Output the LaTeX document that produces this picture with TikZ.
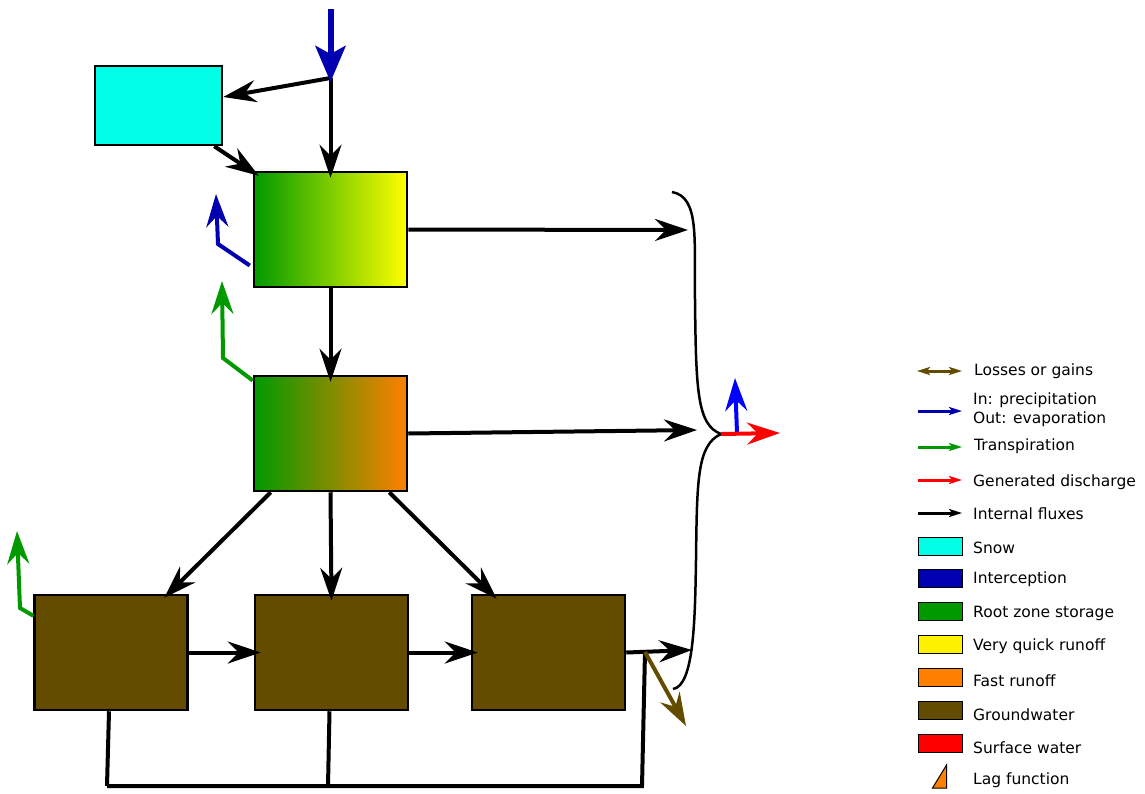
\documentclass[tikz,border=0pt]{standalone}
\usepackage{fontspec}
\setmainfont{DejaVu Sans}
\usetikzlibrary{arrows.meta}
\definecolor{snowcol}{RGB}{0,255,230}
\definecolor{intercol}{RGB}{0,0,176}
\definecolor{rootcol}{RGB}{0,153,0}
\definecolor{fastcol}{RGB}{255,128,0}
\definecolor{gwcol}{RGB}{99,75,0}
\tikzset{x=1pt,y=-1pt,
store/.style={ % Boxes of the model
draw,line width=2.5pt,inner sep=0pt,minimum width=153pt,minimum height=115pt},
keybox/.style={ % Boxes of the key
draw,line width=1pt,inner sep=0pt,minimum width=44pt,minimum height=18pt},
keytext/.style={anchor=base west,inner sep=0pt,font=\fontsize{15.5}{18}\selectfont},
flux/.style={line width=4pt,-{Stealth[length=33pt,width=22pt,inset=11pt]}},
thickflux/.style={line width=6pt,-{Stealth[length=36pt,width=30pt,inset=8pt]}},
pipe/.style={line width=4pt},
keyflux/.style={line width=3pt,-{Stealth[length=13pt,width=8pt,inset=3pt]}}}

\begin{document}
\begin{tikzpicture}
    \useasboundingbox (0,0) rectangle (1145,793);
    % stores
    \node[store, fill=snowcol, minimum width=127pt, minimum height=79pt] (snow) at (158.5,105.5) {};
    \node[store, left color=rootcol, right color=yellow] (veryquick) at (330.5,229.5) {};
    \node[store, left color=rootcol, right color=fastcol] (fast) at (330.5,433.5) {};
    \node[store, fill=gwcol] (gwa) at (111,652.5) {};
    \node[store, fill=gwcol] (gwb) at (331.5,652.5) {};
    \node[store, fill=gwcol] (gwc) at (548.5,652.5) {};
    % free ends
    \coordinate (rainin) at (330.5,9);
    \coordinate (rainend) at (330.5,82);
    \coordinate (split) at (330.5,78);
    \coordinate (evapbend) at (218,244);
    \coordinate (evapend) at (216,194);
    \coordinate (transbend) at (223,358);
    \coordinate (transend) at (222,281);
    \coordinate (deepbend) at (20,608);
    \coordinate (deepend) at (17,531);
    \coordinate (sumtop) at (672,192);
    \coordinate (sumbottom) at (673,689);
    \coordinate (sumtip) at (721,434);
    \coordinate (outflow) at (780,433);
    \coordinate (outevap) at (737,433);
    \coordinate (outevapend) at (735,378);
    \coordinate (inflowa) at (688,230);
    \coordinate (inflowb) at (697,430);
    \coordinate (inflowc) at (692,650);
    \coordinate (lossstart) at (645,652);
    \coordinate (lossend) at (686,726);
    \coordinate (returna) at (107,786);
    \coordinate (returnb) at (328,786);
    \coordinate (returnc) at (642,786);
    % fluxes
    \draw[pipe] ([xshift=-2pt]gwa.south) -- (returna);
    \draw[pipe] ([xshift=-2pt]gwb.south) -- (returnb);
    \draw[pipe] (returna) -- (returnb) -- (returnc) -- (lossstart);
    \draw[flux] (split) -- ([yshift=8.5pt]snow.east);
    \draw[flux] (split) -- ([yshift=-7pt]veryquick.north);
    \draw[flux] ([xshift=-9pt]snow.south east) -- ([xshift=6pt,yshift=-5pt]veryquick.north west);
    \draw[flux] (veryquick.east) -- (inflowa);
    \draw[flux] (veryquick.south) -- ([yshift=-7pt]fast.north);
    \draw[flux] (fast.east) -- (inflowb);
    \draw[flux] ([xshift=18pt]fast.south west) -- ([xshift=131pt,yshift=-4pt]gwa.north west);
    \draw[flux] (fast.south) -- ([yshift=-7pt]gwb.north);
    \draw[flux] ([xshift=-19pt]fast.south east) -- ([xshift=26pt,yshift=-5pt]gwc.north west);
    \draw[flux] (gwa.east) -- ([xshift=7pt]gwb.west);
    \draw[flux] (gwb.east) -- ([xshift=7pt]gwc.west);
    \draw[flux] (gwc.east) -- (inflowc);
    \draw[flux, gwcol] (lossstart) -- (lossend);
    \draw[flux, intercol] ([xshift=-3pt,yshift=-36pt]veryquick.west) -- (evapbend) -- (evapend);
    \draw[flux, rootcol] ([yshift=53pt]fast.west) -- (transbend) -- (transend);
    \draw[flux, rootcol] ([yshift=-22pt]gwa.north west) -- (deepbend) -- (deepend);
    \draw[thickflux, intercol] (rainin) -- (rainend);
    % sum of the runoff
    \draw[line width=2.5pt] (sumtop) .. controls (700,197) and (694,240) .. (695,300) .. controls (696,390) and (697,425) .. (sumtip);
    \draw[line width=2.5pt] (sumbottom) .. controls (694,686) and (695,620) .. (696,560) .. controls (697,480) and (697,445) .. (sumtip);
    \draw[flux, blue] (outevap) -- (outevapend);
    \draw[flux, red] (sumtip) -- (outflow);
    % key
    \coordinate (keya) at (917,371);
    \coordinate (keyb) at (962,371);
    \coordinate (keyc) at (918,411);
    \coordinate (keyd) at (962,411);
    \coordinate (keye) at (918,447);
    \coordinate (keyf) at (962,447);
    \coordinate (keyg) at (918,480);
    \coordinate (keyh) at (962,480);
    \coordinate (keyi) at (918,513);
    \coordinate (keyj) at (962,513);
    \draw[keyflux, gwcol, {Stealth[length=13pt,width=8pt,inset=3pt]}-{Stealth[length=13pt,width=8pt,inset=3pt]}] (keya) -- (keyb);
    \draw[keyflux, intercol] (keyc) -- (keyd);
    \draw[keyflux, rootcol] (keye) -- (keyf);
    \draw[keyflux, red] (keyg) -- (keyh);
    \draw[keyflux, black] (keyi) -- (keyj);
    \node[keybox, fill=snowcol] (keysnow) at (940,546) {};
    \node[keybox, fill=intercol] (keyinter) at (940,578.5) {};
    \node[keybox, fill=rootcol] (keyroot) at (940,611.5) {};
    \node[keybox, fill=yellow] (keyquick) at (940,644.5) {};
    \node[keybox, fill=fastcol] (keyfast) at (940,677.5) {};
    \node[keybox, fill=gwcol] (keygw) at (940,710) {};
    \node[keybox, fill=red] (keysurface) at (940,743) {};
    \filldraw[fill=fastcol, draw=black, line width=1pt] (932.5,788) -- (946.5,765) -- (946.5,788) -- cycle;
    \node[keytext] (tloss) at (974,375) {Losses or gains};
    \node[keytext] (tin) at (973,404) {In: precipitation};
    \node[keytext] (tout) at (973,423) {Out: evaporation};
    \node[keytext] (ttrans) at (974,450) {Transpiration};
    \node[keytext] (tgen) at (973,486) {Generated discharge};
    \node[keytext] (tint) at (973,519) {Internal fluxes};
    \node[keytext] (tsnow) at (973,553) {Snow};
    \node[keytext] (tinter) at (973,583) {Interception};
    \node[keytext] (troot) at (973,617) {Root zone storage};
    \node[keytext] (tquick) at (973,650) {Very quick runoff};
    \node[keytext] (tfast) at (973,686) {Fast runoff};
    \node[keytext] (tgw) at (973,720) {Groundwater};
    \node[keytext] (tsurface) at (973,753) {Surface water};
    \node[keytext] (tlag) at (973,784) {Lag function};
\end{tikzpicture}
\end{document}
